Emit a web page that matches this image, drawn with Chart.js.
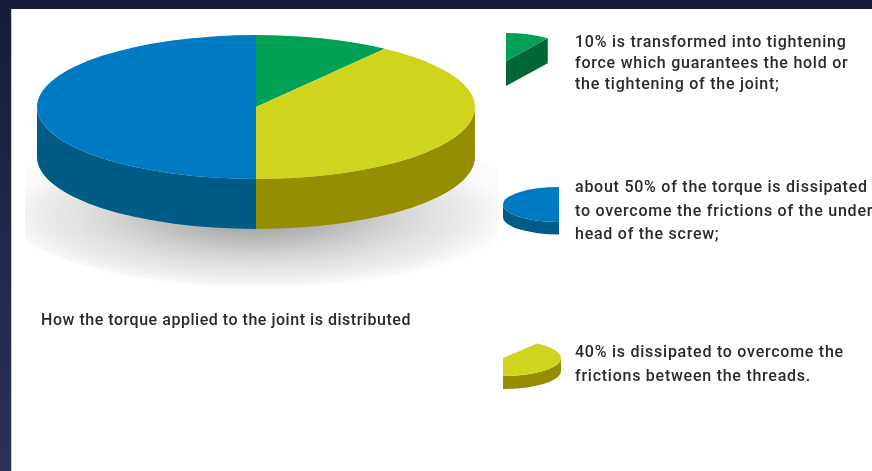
<!DOCTYPE html>
<html>
<head>
<meta charset="utf-8">
<title>Torque distribution</title>
<script src="https://cdn.jsdelivr.net/npm/chart.js@4/dist/chart.umd.min.js"></script>
<style>
  html, body { margin: 0; padding: 0; }
  body {
    width: 872px; height: 471px; overflow: hidden; position: relative;
    background: linear-gradient(180deg, #171c3a 0%, #2b3259 100%);
    font-family: Roboto, sans-serif; color: #2a2a2c;
  }
  #sheet {
    position: absolute; left: 11px; top: 9px; right: 0; bottom: 0;
    background: #fff; border-left: 1px solid #c3c9de;
  }
  canvas { position: absolute; left: 0; top: 0; }
  .caption { position: absolute; white-space: pre; font-size: 16px; font-weight: 500; letter-spacing: .75px; }
  #pieTitle { left: 41px; top: 309px; line-height: 21px; letter-spacing: .53px; }
</style>
</head>
<body>
<div id="sheet"></div>
<canvas id="mainPie" width="872" height="471"></canvas>
<canvas id="greenPiece" width="872" height="471"></canvas>
<canvas id="bluePiece" width="872" height="471"></canvas>
<canvas id="yellowPiece" width="872" height="471"></canvas>
<div class="caption" id="pieTitle"></div>
<div class="caption" id="cap0" style="left:575px;top:31px;line-height:21px"></div>
<div class="caption" id="cap1" style="left:575px;top:175px;line-height:23.5px"></div>
<div class="caption" id="cap2" style="left:575px;top:340px;line-height:24px"></div>
<script>
const categories = ['Tightening force', 'Thread friction', 'Under-head friction'];
const torqueShares = [10, 40, 50];
const topColors = ['#00a056', '#cfd41c', '#007ac3'];
const sideColors = ['#006633', '#958e00', '#005c87'];

const pieTitle = 'How the torque applied to the joint is distributed';
const captions = [
  '10% is transformed into tightening\nforce which guarantees the hold or\nthe tightening of the joint;',
  'about 50% of the torque is dissipated\nto overcome the frictions of the under\nhead of the screw;',
  '40% is dissipated to overcome the\nfrictions between the threads.'
];

document.getElementById('pieTitle').textContent = pieTitle;
captions.forEach((c, i) => { document.getElementById('cap' + i).textContent = c; });

// soft floor shadow under the big pie
function drawFloorShadow(ctx) {
  ctx.save();
  ctx.beginPath();
  ctx.rect(25, 100, 473, 200);
  ctx.clip();
  ctx.beginPath();
  ctx.ellipse(261, 205, 261, 82, 0, 0, Math.PI * 2);
  ctx.clip();
  ctx.translate(256, 215);
  ctx.scale(1, 0.288);
  const g = ctx.createRadialGradient(0, 0, 0, 0, 0, 250);
  g.addColorStop(0, '#999999');
  g.addColorStop(0.25, '#b0b0b0');
  g.addColorStop(0.6, '#d8d8d9');
  g.addColorStop(0.9, '#f0f0f1');
  g.addColorStop(1, '#fbfbfb');
  ctx.fillStyle = g;
  ctx.fillRect(-400, -500, 800, 1000);
  ctx.restore();
}

// draws the outer rim of each shown slice, then squashes the pie into an ellipse
const tiltPlugin = {
  id: 'tilt',
  beforeDatasetsDraw(chart, args, opts) {
    const ctx = chart.ctx;
    const arcs = chart.getDatasetMeta(0).data;
    const cx = arcs[0].x;
    const rx = arcs[0].outerRadius;
    if (opts.shadow) drawFloorShadow(ctx);

    arcs.forEach((arc, i) => {
      if (!opts.show.includes(i)) return;
      const from = Math.max(arc.startAngle, 0);
      const to = Math.min(arc.endAngle, Math.PI);
      ctx.fillStyle = sideColors[i];
      if (from < to) {
        ctx.beginPath();
        ctx.ellipse(cx, opts.cy, rx, opts.ry, 0, from, to);
        ctx.ellipse(cx, opts.cy + opts.depth, rx, opts.ry, 0, to, from, true);
        ctx.closePath();
        ctx.fill();
      }
      if (opts.cutFace) {
        const ex = cx + rx * Math.cos(arc.endAngle);
        const ey = opts.cy + opts.ry * Math.sin(arc.endAngle);
        ctx.beginPath();
        ctx.moveTo(cx, opts.cy);
        ctx.lineTo(ex, ey);
        ctx.lineTo(ex, ey + opts.depth);
        ctx.lineTo(cx, opts.cy + opts.depth);
        ctx.closePath();
        ctx.fill();
      }
    });

    ctx.save();
    ctx.translate(cx, opts.cy);
    ctx.scale(1, opts.ry / rx);
    ctx.translate(-cx, -arcs[0].y);
  },
  afterDatasetsDraw(chart) {
    chart.ctx.restore();
  }
};

function makePie(id, place) {
  const canvas = document.getElementById(id);
  return new Chart(canvas, {
    type: 'pie',
    data: {
      labels: categories,
      datasets: [{
        data: torqueShares,
        backgroundColor: topColors.map((c, i) => place.show.includes(i) ? c : 'transparent'),
        borderWidth: 0,
        clip: false
      }]
    },
    options: {
      responsive: false,
      animation: false,
      events: [],
      layout: {
        padding: {
          left: place.cx - place.rx,
          right: canvas.width - place.cx - place.rx,
          top: 0,
          bottom: canvas.height - place.rx * 2
        }
      },
      plugins: {
        legend: { display: false },
        tooltip: { enabled: false },
        tilt: place
      }
    },
    plugins: [tiltPlugin]
  });
}

makePie('mainPie', { cx: 256, cy: 107, rx: 219, ry: 72, depth: 50, show: [0, 1, 2], shadow: true });
makePie('greenPiece', { cx: 506, cy: 61, rx: 71, ry: 28, depth: 25, show: [0], cutFace: true });
makePie('bluePiece', { cx: 559, cy: 204.5, rx: 56, ry: 17.5, depth: 12.5, show: [2] });
makePie('yellowPiece', { cx: 503, cy: 358, rx: 58, ry: 18, depth: 13, show: [1] });
</script>
</body>
</html>
